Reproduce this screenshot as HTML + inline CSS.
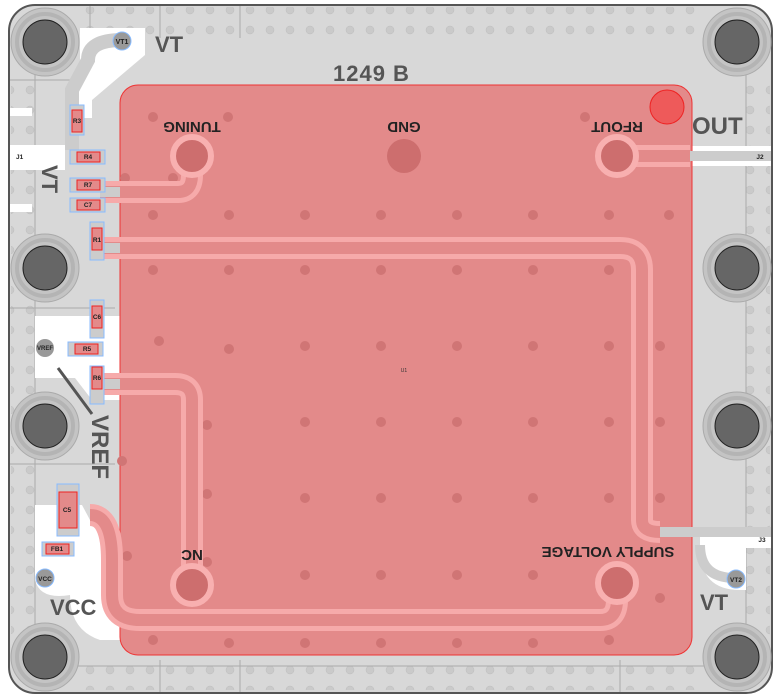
<!DOCTYPE html>
<html><head><meta charset="utf-8"><style>html,body{margin:0;padding:0;background:#fff}svg{display:block}</style></head>
<body>
<svg width="781" height="700" viewBox="0 0 781 700" xmlns="http://www.w3.org/2000/svg" font-family="Liberation Sans, sans-serif">
<defs>
<pattern id="dots" x="0" y="0" width="20" height="20" patternUnits="userSpaceOnUse">
<circle cx="10" cy="10" r="4" fill="#cacaca" stroke="#bbb" stroke-width="0.5"/>
</pattern>
</defs>
<rect x="9" y="5" width="763" height="688" rx="26" fill="#d8d8d8" stroke="#555" stroke-width="2"/>
<rect x="85" y="7" width="612" height="32" fill="url(#dots)"/>
<rect x="85" y="658" width="612" height="32" fill="url(#dots)"/>
<rect x="11" y="75" width="26" height="560" fill="url(#dots)"/>
<rect x="745" y="75" width="25" height="560" fill="url(#dots)"/>
<g stroke="#aaa" stroke-width="1" fill="none">
<line x1="35" y1="30" x2="35" y2="670"/><line x1="746" y1="30" x2="746" y2="670"/>
<line x1="10" y1="80" x2="115" y2="80"/><line x1="10" y1="308" x2="115" y2="308"/><line x1="10" y1="464" x2="115" y2="464"/>
<line x1="30" y1="666" x2="750" y2="666"/><line x1="160" y1="660" x2="160" y2="692"/><line x1="240" y1="660" x2="240" y2="692"/><line x1="620" y1="660" x2="620" y2="692"/>
<line x1="90" y1="6" x2="90" y2="38"/><line x1="160" y1="6" x2="160" y2="38"/><line x1="240" y1="6" x2="240" y2="38"/>
</g>
<path d="M10 108 H32 V116 H10Z M10 145 H65 V170 H10Z M10 204 H32 V212 H10Z" fill="#fff"/>
<path d="M35 316 H120 V400 H92 L75 378 H35Z" fill="#fff"/>
<path d="M35 505 H82 L90 520 Q115 525 115 560 V590 Q115 625 150 625 H120 V640 H100 Q70 630 70 595 Q40 600 35 580Z" fill="#fff"/>
<path d="M700 528 H771 V548 H700Z M700 548 Q700 590 740 590 H746 V548Z" fill="#fff"/>
<path d="M690 146 H771 V166 H690Z" fill="#fff"/>
<path d="M80 28 H145 V55 L92 100 V118 H66 V95 Q66 80 80 70Z" fill="#fff"/>
<g fill="#c4c4c4" stroke="#aaa" stroke-width="1">
<circle cx="45" cy="42" r="34"/><circle cx="737" cy="42" r="34"/>
<circle cx="45" cy="268" r="34"/><circle cx="737" cy="268" r="34"/>
<circle cx="45" cy="426" r="34"/><circle cx="737" cy="426" r="34"/>
<circle cx="45" cy="657" r="34"/><circle cx="737" cy="657" r="34"/>
</g>
<g fill="none" stroke="#b4b4b4" stroke-width="4">
<circle cx="45" cy="42" r="28"/><circle cx="737" cy="42" r="28"/>
<circle cx="45" cy="268" r="28"/><circle cx="737" cy="268" r="28"/>
<circle cx="45" cy="426" r="28"/><circle cx="737" cy="426" r="28"/>
<circle cx="45" cy="657" r="28"/><circle cx="737" cy="657" r="28"/>
</g>
<g fill="#666" stroke="#222" stroke-width="1">
<circle cx="45" cy="42" r="22"/><circle cx="737" cy="42" r="22"/>
<circle cx="45" cy="268" r="22"/><circle cx="737" cy="268" r="22"/>
<circle cx="45" cy="426" r="22"/><circle cx="737" cy="426" r="22"/>
<circle cx="45" cy="657" r="22"/><circle cx="737" cy="657" r="22"/>
</g>
<path d="M122 40 Q88 40 88 60 L72 90 V150" stroke="#ccc" stroke-width="14" fill="none"/>
<circle cx="122" cy="41" r="9" fill="#999" stroke="#8bf"/>
<text x="122" y="44" font-size="7" font-weight="bold" text-anchor="middle" fill="#222">VT1</text>
<text x="155" y="52" font-size="22" font-weight="bold" fill="#555">VT</text>
<text x="333" y="81" font-size="22" font-weight="bold" fill="#555" letter-spacing="1">1249  B</text>
<text x="692" y="134" font-size="24" font-weight="bold" fill="#555">OUT</text>
<text x="700" y="610" font-size="22" font-weight="bold" fill="#555">VT</text>
<text x="50" y="615" font-size="22" font-weight="bold" fill="#555">VCC</text>
<text transform="translate(42 165) rotate(90)" font-size="22" font-weight="bold" fill="#555">VT</text>
<text transform="translate(92 415) rotate(90)" font-size="24" font-weight="bold" fill="#555">VREF</text>
<line x1="58" y1="368" x2="92" y2="414" stroke="#555" stroke-width="3"/>
<rect x="120" y="85" width="572" height="570" rx="18" fill="#e38a8a" stroke="#e33" stroke-width="1"/>
<g fill="#d07575">
<circle cx="153" cy="117" r="5"/><circle cx="228" cy="117" r="5"/><circle cx="585" cy="117" r="5"/>
<circle cx="125" cy="178" r="5"/><circle cx="173" cy="178" r="5"/>
<circle cx="153" cy="215" r="5"/><circle cx="229" cy="215" r="5"/><circle cx="305" cy="215" r="5"/><circle cx="381" cy="215" r="5"/><circle cx="457" cy="215" r="5"/><circle cx="533" cy="215" r="5"/><circle cx="609" cy="215" r="5"/><circle cx="669" cy="215" r="5"/>
<circle cx="153" cy="270" r="5"/><circle cx="229" cy="270" r="5"/><circle cx="305" cy="270" r="5"/><circle cx="381" cy="270" r="5"/><circle cx="457" cy="270" r="5"/><circle cx="533" cy="270" r="5"/><circle cx="609" cy="270" r="5"/>
<circle cx="159" cy="341" r="5"/><circle cx="229" cy="349" r="5"/><circle cx="305" cy="346" r="5"/><circle cx="381" cy="346" r="5"/><circle cx="457" cy="346" r="5"/><circle cx="533" cy="346" r="5"/><circle cx="609" cy="346" r="5"/><circle cx="660" cy="346" r="5"/>
<circle cx="207" cy="425" r="5"/><circle cx="305" cy="422" r="5"/><circle cx="381" cy="422" r="5"/><circle cx="457" cy="422" r="5"/><circle cx="533" cy="422" r="5"/><circle cx="609" cy="422" r="5"/><circle cx="660" cy="422" r="5"/>
<circle cx="122" cy="461" r="5"/><circle cx="207" cy="494" r="5"/><circle cx="305" cy="498" r="5"/><circle cx="381" cy="498" r="5"/><circle cx="457" cy="498" r="5"/><circle cx="533" cy="498" r="5"/><circle cx="609" cy="498" r="5"/><circle cx="660" cy="498" r="5"/>
<circle cx="127" cy="556" r="5"/><circle cx="207" cy="562" r="5"/><circle cx="305" cy="575" r="5"/><circle cx="381" cy="575" r="5"/><circle cx="457" cy="575" r="5"/><circle cx="533" cy="575" r="5"/><circle cx="660" cy="598" r="5"/>
<circle cx="153" cy="640" r="5"/><circle cx="229" cy="643" r="5"/><circle cx="305" cy="643" r="5"/><circle cx="381" cy="643" r="5"/><circle cx="457" cy="643" r="5"/><circle cx="533" cy="643" r="5"/><circle cx="609" cy="640" r="5"/>
</g>
<circle cx="667" cy="107" r="17" fill="#ee5a5a" stroke="#e22"/>
<g fill="none" stroke-linejoin="round">
<g stroke="#f6aaaa" stroke-width="22">
<path d="M100 248 H620 Q642 248 642 270 V520 Q642 532 660 532"/>
<path d="M100 384 H175 Q192 384 192 400 V585"/>
<path d="M90 515 Q112 515 112 560 V595 Q112 620 140 620 H600 Q617 620 617 600 V583"/>
<path d="M100 192 H178 Q192 192 192 175 V156"/>
<path d="M617 156 H690"/>
</g>
<g stroke="#e38a8a" stroke-width="12">
<path d="M100 248 H620 Q642 248 642 270 V520 Q642 532 660 532"/>
<path d="M100 384 H175 Q192 384 192 400 V585"/>
<path d="M90 515 Q112 515 112 560 V595 Q112 620 140 620 H600 Q617 620 617 600 V583"/>
<path d="M100 192 H178 Q192 192 192 175 V156"/>
<path d="M617 156 H690"/>
</g>
<g stroke="#ccc" stroke-width="10">
<path d="M660 532 H771"/><path d="M690 156 H771"/><path d="M100 248 H120"/><path d="M100 384 H120"/><path d="M100 192 H120"/>
</g>
<path d="M700 545 Q700 578 735 578" stroke="#ccc" stroke-width="10"/>
</g>
<g fill="#cd6e6e" stroke="#f8b0b0" stroke-width="6">
<circle cx="192" cy="156" r="19"/><circle cx="617" cy="156" r="19"/><circle cx="192" cy="585" r="19"/><circle cx="617" cy="583" r="19"/>
</g>
<circle cx="404" cy="156" r="17" fill="#cd6e6e"/>
<g font-weight="bold" font-size="15" fill="#222" text-anchor="middle">
<text transform="translate(192 122) rotate(180)">TUNING</text>
<text transform="translate(404 122) rotate(180)">GND</text>
<text transform="translate(617 122) rotate(180)">RFOUT</text>
<text transform="translate(192 550) rotate(180)">NC</text>
<text transform="translate(608 547) rotate(180)">SUPPLY VOLTAGE</text>
</g>
<text x="404" y="372" font-size="5" text-anchor="middle" fill="#333">U1</text>
<g stroke="#8bf" stroke-width="1" fill="#ccc">
<rect x="70" y="105" width="14" height="30"/>
<rect x="70" y="150" width="35" height="14"/><rect x="70" y="178" width="35" height="14"/><rect x="70" y="198" width="35" height="14"/>
<rect x="90" y="222" width="14" height="38"/>
<rect x="90" y="300" width="14" height="38"/><rect x="68" y="342" width="35" height="14"/><rect x="90" y="366" width="14" height="38"/>
<rect x="57" y="484" width="22" height="52"/><rect x="42" y="542" width="32" height="14"/>
</g>
<g stroke="#e22" stroke-width="1" fill="#e38a8a">
<rect x="72" y="110" width="10" height="22"/>
<rect x="77" y="152" width="23" height="10"/><rect x="77" y="180" width="23" height="10"/><rect x="77" y="200" width="23" height="10"/>
<rect x="92" y="228" width="10" height="22"/>
<rect x="92" y="306" width="10" height="22"/><rect x="75" y="344" width="23" height="10"/><rect x="92" y="367" width="10" height="22"/>
<rect x="59" y="492" width="18" height="36"/><rect x="46" y="544" width="23" height="10"/>
</g>
<g font-size="6.5" font-weight="bold" fill="#222" text-anchor="middle">
<text x="77" y="123">R3</text><text x="88" y="159">R4</text><text x="88" y="187">R7</text><text x="88" y="207">C7</text>
<text x="97" y="242">R1</text><text x="97" y="319">C6</text><text x="87" y="351">R5</text><text x="97" y="380">R6</text>
<text x="67" y="512">C5</text><text x="57" y="551">FB1</text>
<text x="16" y="159" text-anchor="start">J1</text><text x="760" y="159">J2</text><text x="762" y="542">J3</text>
</g>
<circle cx="45" cy="348" r="9" fill="#999"/><text x="45" y="350" font-size="6" font-weight="bold" text-anchor="middle" fill="#222">VREF</text>
<circle cx="45" cy="578" r="9" fill="#999" stroke="#8bf"/><text x="45" y="581" font-size="6.5" font-weight="bold" text-anchor="middle" fill="#222">VCC</text>
<circle cx="736" cy="579" r="9" fill="#999" stroke="#8bf"/><text x="736" y="582" font-size="6.5" font-weight="bold" text-anchor="middle" fill="#222">VT2</text>
</svg>
</body></html>
